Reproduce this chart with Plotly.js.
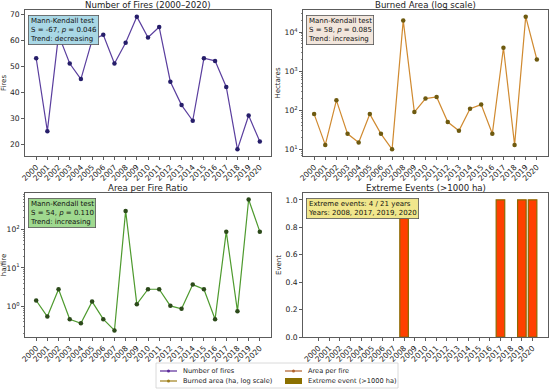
<!DOCTYPE html>
<html>
<head>
<meta charset="utf-8">
<script src="https://cdn.plot.ly/plotly-3.0.1.min.js"></script>
<style>html,body{margin:0;padding:0;background:#fff;}#chart{width:550px;height:390px;}</style>
</head>
<body>
<div id="chart"></div>
<script>
// ---- data ----
const years = ['2000','2001','2002','2003','2004','2005','2006','2007','2008','2009','2010',
               '2011','2012','2013','2014','2015','2016','2017','2018','2019','2020'];
const fires = [53,25,62,51,45,60,62,51,59,69,61,65,44,35,29,53,52,42,18,31,21];
const burnedArea = [80,13,180,25,15,80,25,10,20000,90,200,220,50,30,110,140,25,4000,13,25000,2000];
const areaPerFire = [1.43,0.55,2.8,0.47,0.37,1.34,0.47,0.24,300,1.15,2.8,2.8,1.04,0.87,3.7,2.8,0.47,87,0.76,590,87];
const extremeEvent = [0,0,0,0,0,0,0,0,1,0,0,0,0,0,0,0,0,1,0,1,1];

const titles = ['Number of Fires (2000–2020)','Burned Area (log scale)','Area per Fire Ratio','Extreme Events (>1000 ha)'];
const yTitles = ['Fires','Hectares','ha/fire','Event'];
const boxTexts = [
  'Mann-Kendall test<br>S = -67, <i>p</i> = 0.046<br>Trend: decreasing',
  'Mann-Kendall test<br>S = 58, <i>p</i> = 0.085<br>Trend: increasing',
  'Mann-Kendall test<br>S = 54, <i>p</i> = 0.110<br>Trend: increasing',
  'Extreme events: 4 / 21 years<br>Years: 2008, 2017, 2019, 2020'
];
const legendLabels = ['Number of fires','Burned area (ha, log scale)','Area per fire','Extreme event (>1000 ha)'];

// ---- helpers ----
const W = 550, H = 390;
const px = v => v / W;
const py = v => 1 - v / H;
function linRange(a){const mn=Math.min(...a),mx=Math.max(...a),s=mx-mn;return [mn-0.05*s,mx+0.05*s];}
function logRange(a){const l=a.map(Math.log10);const mn=Math.min(...l),mx=Math.max(...l),s=mx-mn;return [mn-0.05*s,mx+0.05*s];}
function minorVals(lo,hi){const v=[];for(let e=lo;e<=hi;e++){for(let m=2;m<=9;m++)v.push(m*Math.pow(10,e));}return v;}

const FONT = 'DejaVu Sans';
const axCol = '#333';
function baseAxis(extra){
  return Object.assign({
    showline:true, mirror:true, linecolor:axCol, linewidth:0.8,
    ticks:'outside', ticklen:3, tickwidth:0.8, tickcolor:axCol,
    showgrid:false, zeroline:false, automargin:false,
    tickfont:{family:FONT,size:7.6,color:'#222'}
  }, extra);
}
function xAxis(domain, anchor, range){
  return baseAxis({domain:domain, anchor:anchor, type:'category', tickmode:'array',
    tickvals:years, ticktext:years, tickangle:-45, range:range});
}
function yTitle(t){return {text:t, font:{family:FONT,size:7,color:'#222'}, standoff:3};}

const xL=[px(25),px(271)], xR=[px(303),px(548)];
const yT=[py(156),py(10)], yB=[py(337),py(193)];

const traces = [
  {x:years, y:fires, xaxis:'x', yaxis:'y', type:'scatter', mode:'lines+markers',
   line:{color:'#5A3E9E',width:1.2}, marker:{color:'#261E6A',size:4.5}, showlegend:false},
  {x:years, y:burnedArea, xaxis:'x2', yaxis:'y2', type:'scatter', mode:'lines+markers',
   line:{color:'#D08A30',width:1.2}, marker:{color:'#6E5A10',size:4.5}, showlegend:false},
  {x:years, y:areaPerFire, xaxis:'x3', yaxis:'y3', type:'scatter', mode:'lines+markers',
   line:{color:'#4E9A2E',width:1.2}, marker:{color:'#2C4A1A',size:4.5}, showlegend:false},
  {x:years, y:extremeEvent, xaxis:'x4', yaxis:'y4', type:'bar', width:0.8,
   marker:{color:'#FF4000', line:{color:'#8B6A00',width:extremeEvent.map(v=>v?1.2:0)}}, showlegend:false}
];

const annotations = [];
const axPairs = [['x','y'],['x2','y2'],['x3','y3'],['x4','y4']];
titles.forEach((t,i)=>{
  annotations.push({text:t, xref:axPairs[i][0]+' domain', yref:axPairs[i][1]+' domain', x:0.5, y:1,
    xanchor:'center', yanchor:'bottom', yshift:-1.5, showarrow:false, font:{family:FONT,size:8.6,color:'#222'}});
});
const boxColors = ['#A9D8E6','#F2E6DC','#9FD98F','#F0E68C'];
boxTexts.forEach((t,i)=>{
  annotations.push({text:t, xref:axPairs[i][0]+' domain', yref:axPairs[i][1]+' domain', x:0.012, y:0.965,
    xanchor:'left', yanchor:'top', align:'left', showarrow:false, bgcolor:boxColors[i],
    bordercolor:'#555', borderwidth:0.8, borderpad:1.2, font:{family:FONT,size:7,color:'#111'}});
});

// legend (manual, below the panels)
const legCols = ['#5B2A9A','#A0801C','#B0602A','#8B7000'];
const legPos = [[160,371],[160,381],[285,371],[285,381]];
const shapes = [
  {type:'rect', xref:'paper', yref:'paper', x0:px(156), x1:px(398), y0:py(388), y1:py(363),
   line:{color:'#d0d0d0',width:0.8}, fillcolor:'rgba(255,255,255,0.8)'}
];
legPos.forEach((p,i)=>{
  if(i<3){
    shapes.push({type:'line', xref:'paper', yref:'paper', x0:px(p[0]), x1:px(p[0]+17), y0:py(p[1]), y1:py(p[1]),
      line:{color:legCols[i],width:1.2}});
    shapes.push({type:'circle', xref:'paper', yref:'paper', x0:px(p[0]+7), x1:px(p[0]+10), y0:py(p[1]+1.5), y1:py(p[1]-1.5),
      line:{width:0}, fillcolor:legCols[i]});
  } else {
    shapes.push({type:'rect', xref:'paper', yref:'paper', x0:px(p[0]), x1:px(p[0]+17), y0:py(p[1]+3), y1:py(p[1]-3),
      line:{width:0}, fillcolor:legCols[i]});
  }
  annotations.push({text:legendLabels[i], xref:'paper', yref:'paper', x:px(p[0]+21), y:py(p[1]),
    xanchor:'left', yanchor:'middle', showarrow:false, font:{family:FONT,size:6.6,color:'#222'}});
});

const r2 = logRange(burnedArea), r3 = logRange(areaPerFire);
const layout = {
  width:W, height:H, margin:{l:0,r:0,t:0,b:0}, paper_bgcolor:'#fff', plot_bgcolor:'#fff',
  font:{family:FONT,size:7,color:'#222'}, showlegend:false, bargap:0.2,
  xaxis: xAxis(xL,'y',[-1,21]),
  yaxis: baseAxis({domain:yT, anchor:'x', range:linRange(fires), dtick:10, tick0:0, title:yTitle(yTitles[0])}),
  xaxis2: xAxis(xR,'y2',[-1,21]),
  yaxis2: baseAxis({domain:yT, anchor:'x2', type:'log', range:r2,
    tickmode:'array', tickvals:[10,100,1000,10000],
    ticktext:['10<sup>1</sup>','10<sup>2</sup>','10<sup>3</sup>','10<sup>4</sup>'],
    minor:{tickmode:'array', tickvals:minorVals(0,4), ticks:'outside', ticklen:1.6, tickwidth:0.6, tickcolor:axCol},
    title:yTitle(yTitles[1])}),
  xaxis3: xAxis(xL,'y3',[-1,21]),
  yaxis3: baseAxis({domain:yB, anchor:'x3', type:'log', range:r3,
    tickmode:'array', tickvals:[1,10,100],
    ticktext:['10<sup>0</sup>','10<sup>1</sup>','10<sup>2</sup>'],
    minor:{tickmode:'array', tickvals:minorVals(-1,2), ticks:'outside', ticklen:1.6, tickwidth:0.6, tickcolor:axCol},
    title:yTitle(yTitles[2])}),
  xaxis4: xAxis(xR,'y4',[-1.44,21.44]),
  yaxis4: baseAxis({domain:yB, anchor:'x4', range:[0,1.05], tickmode:'array',
    tickvals:[0,0.2,0.4,0.6,0.8,1.0], ticktext:['0.0','0.2','0.4','0.6','0.8','1.0'],
    title:yTitle(yTitles[3])}),
  annotations:annotations,
  shapes:shapes
};
Plotly.newPlot('chart', traces, layout, {staticPlot:true, displayModeBar:false});
</script>
</body>
</html>
